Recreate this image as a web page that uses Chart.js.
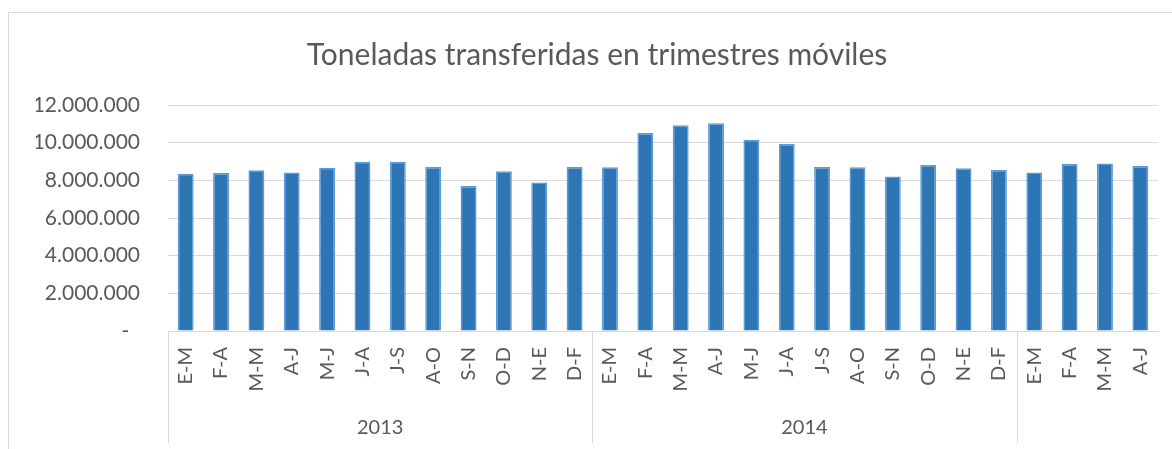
<!DOCTYPE html>
<html>
<head>
<meta charset="utf-8">
<script src="https://cdn.jsdelivr.net/npm/chart.js@4/dist/chart.umd.min.js"></script>
<style>
  body { margin: 0; background: #fff; }
  #wrap { position: relative; width: 1172px; height: 449px; overflow: hidden; }
  #frame { position: absolute; left: 8px; top: 12px; width: 1300px; height: 600px;
           border-left: 1px solid #d9d9d9; border-top: 1px solid #d9d9d9; }
  #chart1 { position: absolute; left: 0; top: 0; }
</style>
</head>
<body>
<div id="wrap">
  <div id="frame"></div>
  <canvas id="chart1" width="1172" height="449"></canvas>
</div>
<script>
// periodos moviles (etiquetas del eje x)
var periodos = ["E-M","F-A","M-M","A-J","M-J","J-A","J-S","A-O","S-N","O-D","N-E","D-F",
                "E-M","F-A","M-M","A-J","M-J","J-A","J-S","A-O","S-N","O-D","N-E","D-F",
                "E-M","F-A","M-M","A-J"];
// grupos de años bajo el eje
var anios = ["2013", "2014", ""];
var mesesPorAnio = [12, 12, 4];
// toneladas
var toneladas = [8350000, 8390000, 8530000, 8410000, 8670000, 8990000, 8990000, 8710000, 7700000, 8480000, 7880000, 8710000,
                 8690000, 10510000, 10920000, 11030000, 10160000, 9930000, 8710000, 8690000, 8200000, 8820000, 8640000, 8550000,
                 8410000, 8870000, 8900000, 8760000];
var yTicks = [0, 2000000, 4000000, 6000000, 8000000, 10000000, 12000000];

var gris = '#595959';
var fuente = 'Lato, "Open Sans", sans-serif';

function formatoMiles(v) {
    if (v == 0) return '-  ';
    return String(v).replace(/\B(?=(\d{3})+(?!\d))/g, '.');
}

// dibuja los años y los separadores debajo de las etiquetas
var gruposPlugin = {
    id: 'grupos',
    afterDraw: function(chart) {
        var ctx = chart.ctx;
        var xs = chart.scales.x;
        var area = chart.chartArea;
        var half = (xs.getPixelForValue(1) - xs.getPixelForValue(0)) / 2;
        var start = 0;
        ctx.save();
        ctx.strokeStyle = '#d9d9d9';
        ctx.lineWidth = 1;
        ctx.fillStyle = gris;
        ctx.font = '20px ' + fuente;
        ctx.textAlign = 'center';
        ctx.textBaseline = 'middle';
        for (var g = 0; g < anios.length; g++) {
            var x0 = xs.getPixelForValue(start) - half;
            var x1 = xs.getPixelForValue(start + mesesPorAnio[g] - 1) + half;
            var xl = Math.round(x0) + 0.5;
            ctx.beginPath();
            ctx.moveTo(xl, area.bottom);
            ctx.lineTo(xl, 443);
            ctx.stroke();
            if (anios[g]) ctx.fillText(anios[g], (x0 + x1) / 2, 428);
            start += mesesPorAnio[g];
        }
        ctx.restore();
    }
};

var chart = new Chart(document.getElementById('chart1').getContext('2d'), {
    type: 'bar',
    data: {
        labels: periodos,
        datasets: [{
            data: toneladas,
            backgroundColor: '#2e75b6',
            borderColor: '#5b9bd5',
            borderWidth: 1.5,
            barPercentage: 0.45,
            categoryPercentage: 1
        }]
    },
    options: {
        responsive: false,
        animation: false,
        layout: { padding: { left: 36, right: 14, top: 0, bottom: 0 } },
        plugins: {
            legend: { display: false },
            tooltip: { enabled: false },
            title: {
                display: true,
                text: 'Toneladas transferidas en trimestres móviles',
                color: gris,
                font: { family: fuente, size: 30, weight: 'normal' },
                padding: { top: 37, bottom: 32 }
            }
        },
        scales: {
            x: {
                grid: { display: false, drawTicks: false },
                border: { display: true, color: '#d9d9d9', width: 1 },
                ticks: {
                    color: gris,
                    font: { family: fuente, size: 20 },
                    minRotation: 90,
                    maxRotation: 90,
                    autoSkip: false,
                    padding: 16
                },
                afterFit: function(scale) {
                    scale.height = 118;
                    scale.paddingLeft = 0;
                    scale.paddingRight = 0;
                }
            },
            y: {
                min: 0,
                max: 12000000,
                afterBuildTicks: function(scale) {
                    scale.ticks = yTicks.map(function(v) { return { value: v }; });
                },
                grid: { color: '#d9d9d9', lineWidth: 1, drawTicks: false },
                border: { display: false },
                ticks: {
                    color: gris,
                    font: { family: fuente, size: 21 },
                    padding: 28,
                    callback: function(v) { return formatoMiles(v); }
                },
                afterFit: function(scale) { scale.width = 132; }
            }
        }
    },
    plugins: [gruposPlugin]
});
</script>
</body>
</html>
